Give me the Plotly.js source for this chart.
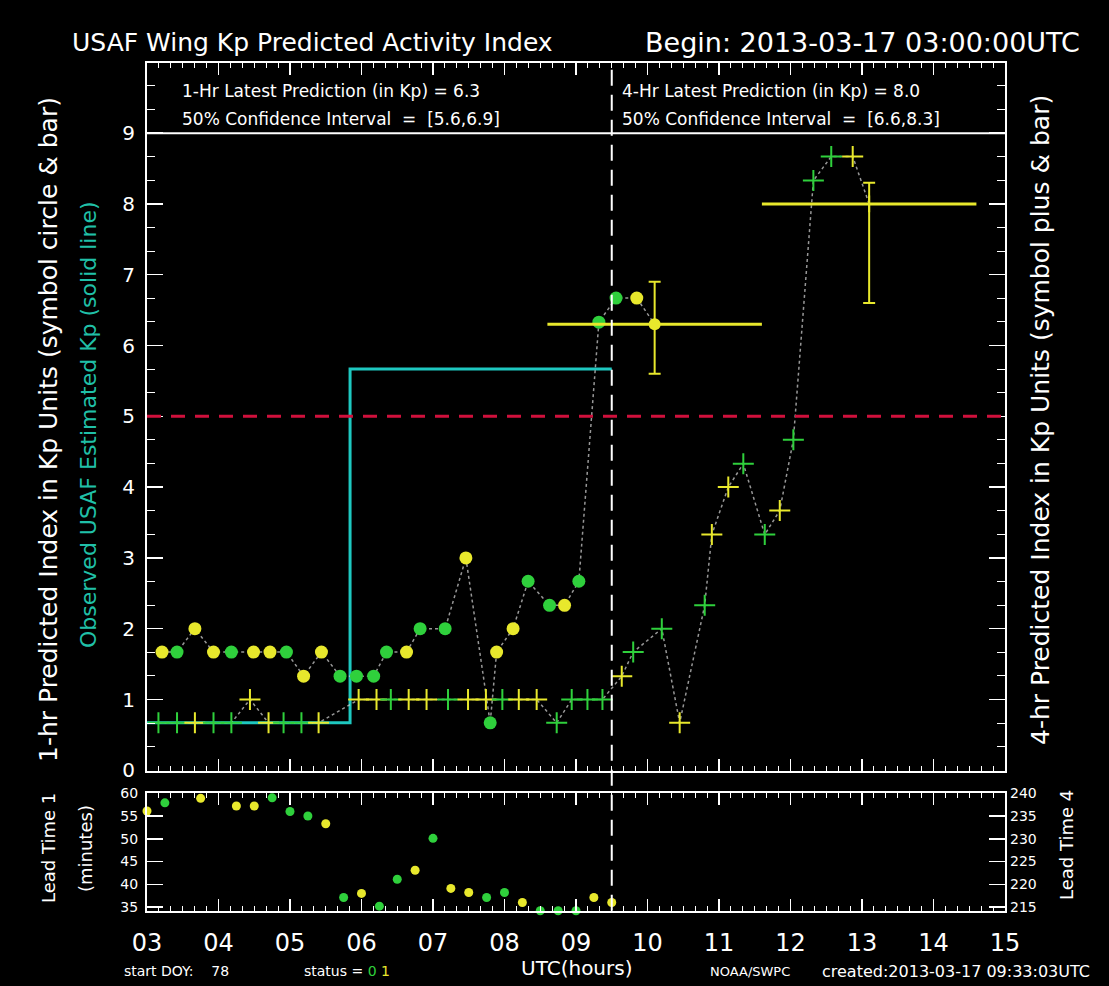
<!DOCTYPE html>
<html><head><meta charset="utf-8">
<script src="https://cdn.plot.ly/plotly-3.0.1.min.js"></script>
<style>html,body{margin:0;padding:0;background:#000;} #chart{width:1109px;height:986px;}</style>
</head><body><div id="chart"></div>
<script>
// ---------- DATA ----------
// 1-hr predictions (circle symbols): target time (UTC hours), Kp, status (0 green, 1 yellow)
const oneHrTimes  = [3.21,3.42,3.67,3.93,4.18,4.49,4.72,4.95,5.19,5.44,5.70,5.93,6.17,6.35,6.63,6.82,7.17,7.46,7.80,7.89,8.12,8.33,8.63,8.84,9.04,9.32,9.56,9.85];
const oneHrKp     = [1.67,1.67,2.0,1.67,1.67,1.67,1.67,1.67,1.33,1.67,1.33,1.33,1.33,1.67,1.67,2.0,2.0,3.0,0.67,1.67,2.0,2.67,2.33,2.33,2.67,6.33,6.67,6.67];
const oneHrStatus = [1,0,1,1,0,1,1,0,1,1,0,0,0,0,1,0,0,1,0,1,1,0,0,1,0,0,0,1];

// 4-hr predictions (plus symbols)
const fourHrTimes  = [3.16,3.42,3.67,3.93,4.18,4.44,4.70,4.91,5.16,5.40,5.96,6.21,6.41,6.66,6.91,7.21,7.49,7.74,7.97,8.20,8.45,8.73,8.94,9.16,9.37,9.64,9.80,10.20,10.45,10.80,10.90,11.13,11.34,11.64,11.85,12.04,12.32,12.57,12.87];
const fourHrKp     = [0.67,0.67,0.67,0.67,0.67,1.0,0.67,0.67,0.67,0.67,1,1,1,1,1,1,1,1,1,1,1,0.67,1,1,1,1.33,1.67,2.0,0.67,2.33,3.33,4.0,4.33,3.33,3.67,4.67,8.33,8.67,8.67];
const fourHrStatus = [0,0,1,0,0,1,1,0,0,1,1,1,0,1,1,0,1,1,0,1,1,0,0,0,0,1,0,0,1,0,1,1,0,0,1,0,0,0,1];

// Latest predictions with 50% confidence intervals: [1-hr, 4-hr]
const ciTimes     = [10.1, 13.1];
const ciKp        = [6.3, 8.0];
const ciLow       = [5.6, 6.6];
const ciHigh      = [6.9, 8.3];
const ciHalfHours = [1.5, 1.5];

// Observed USAF estimated Kp (solid step line)
const obsTimes = [3.0, 5.84, 9.5];
const obsKp    = [0.67, 5.67, 5.67];

// Lead times (lower panel)
const leadTimes   = [3.0,3.25,3.75,4.25,4.5,4.75,5.0,5.25,5.5,5.75,6.0,6.25,6.5,6.75,7.0,7.25,7.5,7.75,8.0,8.25,8.5,8.75,9.0,9.25,9.5];
const leadMinutes = [56.1,57.9,58.9,57.2,57.2,59.0,56.0,55.0,53.3,37.1,38.0,35.2,41.1,43.1,50.1,39.1,38.2,37.1,38.2,36.0,34.2,34.2,34.2,37.1,36.0];
const leadStatus  = [1,0,1,1,1,0,0,0,1,0,1,0,0,1,0,1,1,0,0,1,0,0,0,1,1];

const nowTime = 9.5;
const stormLevel = 5;
const xTickVals = [3,4,5,6,7,8,9,10,11,12,13,14,15];
const xTickLabels = ['03','04','05','06','07','08','09','10','11','12','13','14','15'];
const kpTicks = [0,1,2,3,4,5,6,7,8,9];
const lead1Ticks = [35,40,45,50,55,60];
const lead4Ticks = [215,220,225,230,235,240];

// ---------- STYLE ----------
const FONT = 'DejaVu Sans, Liberation Sans, sans-serif';
const YEL = '#e8e82c', GRN = '#2fd03c', CYAN = '#1ec8c0';
const colorOf = s => s ? YEL : GRN;
const dotLine = {color:'rgba(215,215,215,0.7)', width:1.5, dash:'dot'};

const traces = [
  {x: obsTimes, y: obsKp, mode:'lines', line:{shape:'hv', color:CYAN, width:3}, xaxis:'x', yaxis:'y'},
  {x: oneHrTimes.concat([ciTimes[0]]), y: oneHrKp.concat([ciKp[0]]), mode:'lines', line:dotLine, xaxis:'x', yaxis:'y'},
  {x: fourHrTimes.concat([ciTimes[1]]), y: fourHrKp.concat([ciKp[1]]), mode:'lines', line:dotLine, xaxis:'x', yaxis:'y'},
  {x: oneHrTimes, y: oneHrKp, mode:'markers', xaxis:'x', yaxis:'y',
   marker:{symbol:'circle', size:13, color: oneHrStatus.map(colorOf)}},
  {x: fourHrTimes, y: fourHrKp, mode:'markers', xaxis:'x', yaxis:'y',
   marker:{symbol:'cross-thin', size:15, line:{color: fourHrStatus.map(colorOf), width:2}}},
  {x:[ciTimes[0]], y:[ciKp[0]], mode:'markers', xaxis:'x', yaxis:'y',
   marker:{symbol:'circle', size:12, color:YEL},
   error_x:{type:'data', array:[ciHalfHours[0]], color:YEL, thickness:3, width:0},
   error_y:{type:'data', symmetric:false, array:[ciHigh[0]-ciKp[0]], arrayminus:[ciKp[0]-ciLow[0]], color:YEL, thickness:2, width:6}},
  {x:[ciTimes[1]], y:[ciKp[1]], mode:'markers', xaxis:'x', yaxis:'y',
   marker:{symbol:'cross-thin', size:12, line:{color:YEL, width:2}},
   error_x:{type:'data', array:[ciHalfHours[1]], color:YEL, thickness:3, width:0},
   error_y:{type:'data', symmetric:false, array:[ciHigh[1]-ciKp[1]], arrayminus:[ciKp[1]-ciLow[1]], color:YEL, thickness:2, width:6}},
  {x: leadTimes, y: leadMinutes, mode:'markers', xaxis:'x2', yaxis:'y2', cliponaxis:false,
   marker:{symbol:'circle', size:9, color: leadStatus.map(colorOf)}},
  {x:[3], y:[220], mode:'markers', xaxis:'x2', yaxis:'y3', marker:{opacity:0}, hoverinfo:'skip'}
];

const axBase = {showgrid:false, zeroline:false, showline:true, linecolor:'white', linewidth:2,
  mirror:'ticks', ticks:'inside', tickcolor:'white', tickwidth:1.5, color:'white',
  tickfont:{family:FONT, size:19, color:'white'}, fixedrange:true};
const xDom = [147/1109, 1005/1109];
const mainDom = [1-771/986, 1-62.7/986];
const lowDom = [1-910.7/986, 1-793.3/986];

const ann = (text, x, y, opts) => Object.assign({text, x, y, xref:'paper', yref:'paper', showarrow:false,
  xanchor:'left', yanchor:'middle', font:{family:FONT, size:16, color:'white'}}, opts||{});

const layout = {
  width:1109, height:986, margin:{l:0,r:0,t:0,b:0},
  paper_bgcolor:'#000', plot_bgcolor:'#000', showlegend:false,
  font:{family:FONT, color:'white'},
  xaxis: Object.assign({}, axBase, {domain:xDom, range:[3,15], anchor:'y', tickmode:'linear', tick0:3, dtick:1,
    ticklen:12, showticklabels:false,
    minor:{tickmode:'linear', tick0:3, dtick:1/6, ticklen:5, tickwidth:1, tickcolor:'white', ticks:'inside'}}),
  yaxis: Object.assign({}, axBase, {domain:mainDom, range:[-0.01, 9.995], anchor:'x', tickmode:'array', tickvals:kpTicks,
    ticklen:16, ticklabelstandoff:6, tickfont:{family:FONT, size:20, color:'white'},
    minor:{tickmode:'linear', tick0:0, dtick:1/3, ticklen:8, tickwidth:1, tickcolor:'white', ticks:'inside'}}),
  xaxis2: Object.assign({}, axBase, {domain:xDom, range:[3,15], anchor:'y2', tickmode:'array', tickvals:xTickVals,
    ticktext:xTickLabels, ticklen:12, ticklabelstandoff:9, tickfont:{family:FONT, size:24, color:'white'},
    minor:{tickmode:'linear', tick0:3, dtick:1/6, ticklen:5, tickwidth:1, tickcolor:'white', ticks:'inside'}}),
  yaxis2: Object.assign({}, axBase, {domain:lowDom, range:[34.2, 60], anchor:'x2', tickmode:'array', tickvals:lead1Ticks,
    ticklen:16, ticklabelstandoff:4, tickfont:{family:FONT, size:14, color:'white'}}),
  yaxis3: {domain:lowDom, range:[214.2, 240], anchor:'x2', overlaying:'y2', side:'right', tickmode:'array', tickvals:lead4Ticks,
    showline:false, showgrid:false, zeroline:false, ticks:'', ticklabelstandoff:4,
    tickfont:{family:FONT, size:14, color:'white'}, fixedrange:true},
  shapes: [
    {type:'line', xref:'x', yref:'y', x0:3, x1:15, y0:9, y1:9, line:{color:'white', width:2}},
    {type:'line', xref:'x', yref:'y', x0:3, x1:15, y0:stormLevel, y1:stormLevel, line:{color:'#d0103c', width:3, dash:'14px,10px'}},
    {type:'line', xref:'x', yref:'paper', x0:nowTime, x1:nowTime, y0:lowDom[0], y1:mainDom[1], line:{color:'white', width:2, dash:'16px,9px'}}
  ],
  annotations: [
    ann('USAF Wing Kp Predicted Activity Index', 70/1109, 1-42/986, {font:{family:FONT, size:25, color:'white'}}),
    ann('Begin: 2013-03-17 03:00:00UTC', 1082/1109, 1-42/986, {xanchor:'right', font:{family:FONT, size:27, color:'white'}}),
    ann('1-Hr Latest Prediction (in Kp) = ' + ciKp[0].toFixed(1), 3.46, 9.6, {xref:'x', yref:'y', font:{family:FONT, size:17, color:'white'}}),
    ann('50% Confidence Interval&nbsp;&nbsp;=&nbsp;&nbsp;[' + ciLow[0].toFixed(1) + ',' + ciHigh[0].toFixed(1) + ']', 3.46, 9.2, {xref:'x', yref:'y', font:{family:FONT, size:17, color:'white'}}),
    ann('4-Hr Latest Prediction (in Kp) = ' + ciKp[1].toFixed(1), 9.62, 9.6, {xref:'x', yref:'y', font:{family:FONT, size:17, color:'white'}}),
    ann('50% Confidence Interval&nbsp;&nbsp;=&nbsp;&nbsp;[' + ciLow[1].toFixed(1) + ',' + ciHigh[1].toFixed(1) + ']', 9.62, 9.2, {xref:'x', yref:'y', font:{family:FONT, size:17, color:'white'}}),
    ann('1-hr Predicted Index in Kp Units (symbol circle &amp; bar)', 48/1109, 1-430/986, {xanchor:'center', textangle:-90, font:{family:FONT, size:25, color:'white'}}),
    ann('Observed USAF Estimated Kp (solid line)', 88/1109, 1-425/986, {xanchor:'center', textangle:-90, font:{family:FONT, size:22, color:'#20c0a8'}}),
    ann('4-hr Predicted Index in Kp Units (symbol plus &amp; bar)', 1040/1109, 1-420/986, {xanchor:'center', textangle:-90, font:{family:FONT, size:25, color:'white'}}),
    ann('Lead Time 1', 48/1109, 1-848/986, {xanchor:'center', textangle:-90, font:{family:FONT, size:18, color:'white'}}),
    ann('(minutes)', 85/1109, 1-849/986, {xanchor:'center', textangle:-90, font:{family:FONT, size:18, color:'white'}}),
    ann('Lead Time 4', 1066/1109, 1-845/986, {xanchor:'center', textangle:-90, font:{family:FONT, size:18, color:'white'}}),
    ann('UTC(hours)', 576/1109, 1-968/986, {xanchor:'center', font:{family:FONT, size:20, color:'white'}}),
    ann('start DOY:&nbsp;&nbsp;&nbsp;&nbsp;78', 122/1109, 1-971/986, {font:{family:FONT, size:14, color:'white'}}),
    ann('status = <span style="color:' + GRN + '">0</span> <span style="color:' + YEL + '">1</span>', 302/1109, 1-971/986, {font:{family:FONT, size:14, color:'white'}}),
    ann('NOAA/SWPC', 708/1109, 1-971/986, {font:{family:FONT, size:13, color:'white'}}),
    ann('created:2013-03-17 09:33:03UTC', 820/1109, 1-971/986, {font:{family:FONT, size:16, color:'white'}})
  ]
};

Plotly.newPlot('chart', traces, layout, {displayModeBar:false, staticPlot:true});
</script>
</body></html>
